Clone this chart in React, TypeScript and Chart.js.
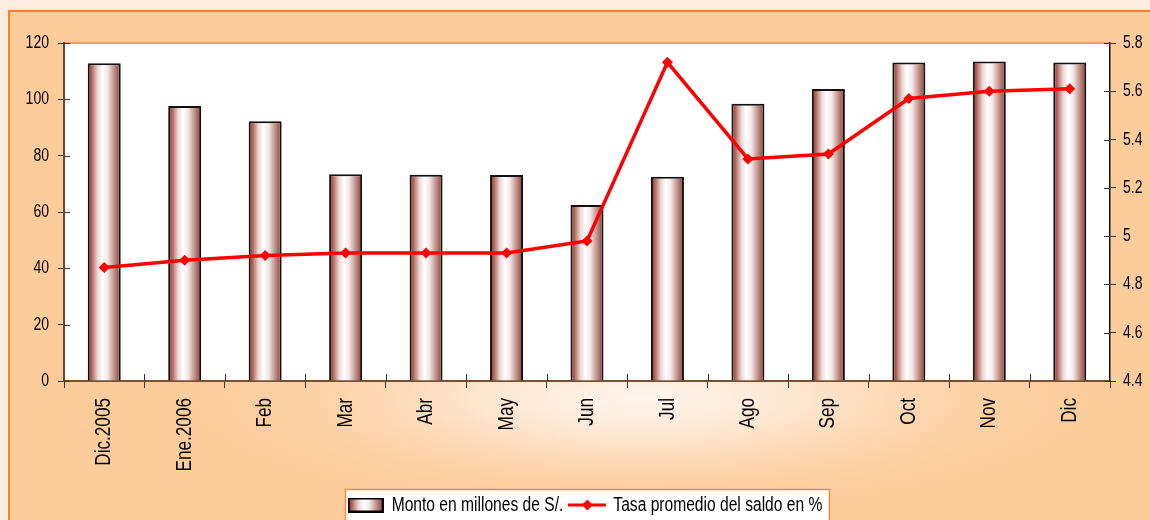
import React, { useEffect, useRef } from "react";
import { Chart, registerables } from "chart.js";

Chart.register(...registerables);

const categories = ["Dic.2005", "Ene.2006", "Feb", "Mar", "Abr", "May", "Jun", "Jul", "Ago", "Sep", "Oct", "Nov", "Dic"];
const montoValues = [112.8, 97.6, 92.2, 73.4, 73.2, 73.1, 62.5, 72.5, 98.4, 103.7, 113.1, 113.4, 113.1];
const tasaValues = [4.87, 4.9, 4.92, 4.93, 4.93, 4.93, 4.98, 5.72, 5.32, 5.34, 5.57, 5.6, 5.61];
const montoLabel = "Monto en millones de S/.";
const tasaLabel = "Tasa promedio del saldo en %";

const FONT = '"Liberation Sans", Arial, sans-serif';
const TEXT_SX = 0.78; // horizontal condensing of all text (narrow face look)
const BROWN = "#8e3a30";
const BAR_PCT = 0.41;

function barGradient(ctx: CanvasRenderingContext2D, x0: number, x1: number) {
  const g = ctx.createLinearGradient(x0, 0, x1, 0);
  g.addColorStop(0, BROWN);
  g.addColorStop(0.1, "#a85a50");
  g.addColorStop(0.3, "#ecd8d5");
  g.addColorStop(0.45, "#ffffff");
  g.addColorStop(0.6, "#f4e8e7");
  g.addColorStop(0.85, "#b27c75");
  g.addColorStop(1, BROWN);
  return g;
}

function makeBarSwatch() {
  const c = document.createElement("canvas");
  c.width = 36;
  c.height = 15;
  const ctx = c.getContext("2d")!;
  ctx.fillStyle = barGradient(ctx, 0, 36);
  ctx.fillRect(0, 0, 36, 15);
  ctx.strokeStyle = "#000";
  ctx.lineWidth = 2;
  ctx.strokeRect(1, 1, 34, 13);
  return c;
}

function makeLineSwatch() {
  const c = document.createElement("canvas");
  c.width = 38;
  c.height = 14;
  const ctx = c.getContext("2d")!;
  ctx.strokeStyle = "#ff0000";
  ctx.lineWidth = 3;
  ctx.beginPath();
  ctx.moveTo(0, 7);
  ctx.lineTo(38, 7);
  ctx.stroke();
  ctx.fillStyle = "#ff0000";
  ctx.beginPath();
  ctx.moveTo(19, 1.5);
  ctx.lineTo(24.5, 7);
  ctx.lineTo(19, 12.5);
  ctx.lineTo(13.5, 7);
  ctx.closePath();
  ctx.fill();
  return c;
}

function condenseText(ctx: any) {
  const origFill = ctx.fillText.bind(ctx);
  const origMeasure = ctx.measureText.bind(ctx);
  ctx.fillText = (text: string, x: number, y: number) => {
    ctx.save();
    ctx.translate(x, y);
    ctx.scale(TEXT_SX, 1);
    origFill(text, 0, 0);
    ctx.restore();
  };
  ctx.measureText = (text: string) => {
    const m = origMeasure(text);
    return {
      width: m.width * TEXT_SX,
      actualBoundingBoxAscent: m.actualBoundingBoxAscent,
      actualBoundingBoxDescent: m.actualBoundingBoxDescent,
      actualBoundingBoxLeft: m.actualBoundingBoxLeft * TEXT_SX,
      actualBoundingBoxRight: m.actualBoundingBoxRight * TEXT_SX,
    };
  };
}

const bgPlugin = {
  id: "bgPlugin",
  beforeDraw(chart: any) {
    const { ctx, width, height, chartArea: ca } = chart;
    ctx.save();
    ctx.fillStyle = "#fdece0";
    ctx.fillRect(0, 0, width, height);
    ctx.fillStyle = "#fdcc9b";
    ctx.fillRect(8, 10, width, height);
    ctx.save();
    ctx.beginPath();
    ctx.rect(8, 10, width, height);
    ctx.clip();
    ctx.translate(640, 398);
    ctx.scale(1, 0.25);
    const g = ctx.createRadialGradient(0, 0, 0, 0, 0, 480);
    g.addColorStop(0, "rgba(255,246,238,1)");
    g.addColorStop(0.35, "rgba(254,232,212,0.9)");
    g.addColorStop(1, "rgba(253,204,155,0)");
    ctx.fillStyle = g;
    ctx.fillRect(-700, -2200, 1400, 4400);
    ctx.restore();
    ctx.strokeStyle = "#ff7f24";
    ctx.lineWidth = 2;
    ctx.strokeRect(9, 11, width + 20, height + 20);
    ctx.fillStyle = "#ffffff";
    ctx.fillRect(ca.left, ca.top, ca.right - ca.left, ca.bottom - ca.top);
    ctx.strokeStyle = "#ff9d5c";
    ctx.lineWidth = 2;
    ctx.beginPath();
    ctx.moveTo(ca.left, ca.top);
    ctx.lineTo(ca.right, ca.top);
    ctx.stroke();
    const lg = chart.legend;
    if (lg && lg.legendHitBoxes && lg.legendHitBoxes.length) {
      let minX = Infinity, maxX = -Infinity, minY = Infinity, maxY = -Infinity;
      lg.legendHitBoxes.forEach((b: any) => {
        minX = Math.min(minX, b.left);
        maxX = Math.max(maxX, b.left + b.width);
        minY = Math.min(minY, b.top);
        maxY = Math.max(maxY, b.top + b.height);
      });
      const cy = (minY + maxY) / 2;
      const x0 = Math.round(minX - 5) + 0.5;
      const y0 = Math.round(cy - 16) + 0.5;
      const w = Math.round(maxX - x0 + 7);
      ctx.fillStyle = "#ffffff";
      ctx.fillRect(x0, y0, w, 60);
      ctx.strokeStyle = "#ff8a3a";
      ctx.lineWidth = 1.5;
      ctx.strokeRect(x0, y0, w, 60);
    }
    ctx.restore();
  },
  afterDatasetsDraw(chart: any) {
    const { ctx, chartArea: ca, scales } = chart;
    ctx.save();
    ctx.lineWidth = 1;
    ctx.strokeStyle = "#333";
    const yL = scales.y;
    yL.ticks.forEach((_t: any, i: number) => {
      const y = Math.round(yL.getPixelForTick(i)) + 0.5;
      ctx.beginPath();
      ctx.moveTo(ca.left, y);
      ctx.lineTo(ca.left + 6, y);
      ctx.stroke();
    });
    const yR = scales.y1;
    yR.ticks.forEach((_t: any, i: number) => {
      const y = Math.round(yR.getPixelForTick(i)) + 0.5;
      ctx.beginPath();
      ctx.moveTo(ca.right - 6, y);
      ctx.lineTo(ca.right, y);
      ctx.stroke();
    });
    const step = (ca.right - ca.left) / categories.length;
    for (let i = 1; i < categories.length; i++) {
      const x = Math.round(ca.left + step * i) + 0.5;
      ctx.beginPath();
      ctx.moveTo(x, ca.bottom - 7);
      ctx.lineTo(x, ca.bottom);
      ctx.stroke();
    }
    ctx.restore();
  },
};

export default function App() {
  const ref = useRef<HTMLCanvasElement | null>(null);
  useEffect(() => {
    document.body.style.margin = "0";
    const canvas = ref.current!;
    condenseText(canvas.getContext("2d"));
    const barSwatch = makeBarSwatch();
    const lineSwatch = makeLineSwatch();
    const chart = new Chart(canvas, {
      type: "bar",
      data: {
        labels: categories,
        datasets: [
          {
            type: "line",
            label: tasaLabel,
            data: tasaValues,
            yAxisID: "y1",
            borderColor: "#ff0000",
            backgroundColor: "#ff0000",
            borderWidth: 3.5,
            pointStyle: "rectRot",
            pointRadius: 5.5,
            pointBorderWidth: 0,
            pointBackgroundColor: "#ff0000",
            tension: 0,
            order: 0,
          } as any,
          {
            type: "bar",
            label: montoLabel,
            data: montoValues,
            yAxisID: "y",
            barPercentage: BAR_PCT,
            categoryPercentage: 1,
            borderColor: "#111",
            borderWidth: 2,
            borderSkipped: "bottom",
            backgroundColor: (c: any) => {
              const chart = c.chart;
              const xs = chart.scales && chart.scales.x;
              if (!xs || c.dataIndex === undefined || !chart.chartArea) return BROWN;
              const cx = xs.getPixelForValue(c.dataIndex);
              const w = ((chart.chartArea.right - chart.chartArea.left) / categories.length) * BAR_PCT;
              return barGradient(chart.ctx, cx - w / 2, cx + w / 2);
            },
            order: 1,
          } as any,
        ],
      },
      options: {
        animation: false,
        responsive: false,
        maintainAspectRatio: false,
        layout: { padding: { left: 22, right: 0, top: 43, bottom: -5 } },
        plugins: {
          tooltip: { enabled: false },
          legend: {
            position: "bottom",
            labels: {
              usePointStyle: true,
              pointStyleWidth: 32,
              padding: 8,
              color: "#000",
              font: { family: FONT, size: 20 },
              generateLabels: () => [
                { text: montoLabel, pointStyle: barSwatch as any, fillStyle: BROWN, strokeStyle: "#000", lineWidth: 0, hidden: false, datasetIndex: 1, fontColor: "#000" },
                { text: tasaLabel, pointStyle: lineSwatch as any, fillStyle: "#f00", strokeStyle: "#f00", lineWidth: 0, hidden: false, datasetIndex: 0, fontColor: "#000" },
              ],
            },
          },
        },
        scales: {
          x: {
            offset: true,
            grid: { display: true, drawOnChartArea: false, offset: true, tickLength: 7, color: "#333", tickColor: "#333" },
            border: { display: true, color: "#7a5034", width: 2 },
            ticks: { color: "#000", font: { family: FONT, size: 22 }, minRotation: 90, maxRotation: 90, padding: 10, autoSkip: false },
            afterFit: (s: any) => { s.height = 106; },
          },
          y: {
            position: "left",
            min: 0,
            max: 120,
            ticks: { stepSize: 20, color: "#000", font: { family: FONT, size: 18 }, padding: 9 },
            grid: { drawOnChartArea: false, tickLength: 6, color: "#333", tickColor: "#333" },
            border: { display: true, color: "#6b4628", width: 2 },
            afterFit: (s: any) => { s.width = 42; },
          },
          y1: {
            position: "right",
            min: 4.4,
            max: 5.8,
            ticks: { stepSize: 0.2, color: "#000", font: { family: FONT, size: 18 }, padding: 7, callback: (v: any) => String(+Number(v).toFixed(1)) },
            grid: { drawOnChartArea: false, tickLength: 6, color: "#333", tickColor: "#333" },
            border: { display: true, color: "#111", width: 1.5 },
            afterFit: (s: any) => { s.width = 40; },
          },
        },
      } as any,
      plugins: [bgPlugin],
    });
    return () => chart.destroy();
  }, []);
  return (
    <div style={{ position: "absolute", left: 0, top: 0, width: 1150, height: 520 }}>
      <canvas ref={ref} width={1150} height={520} style={{ display: "block" }} />
    </div>
  );
}
